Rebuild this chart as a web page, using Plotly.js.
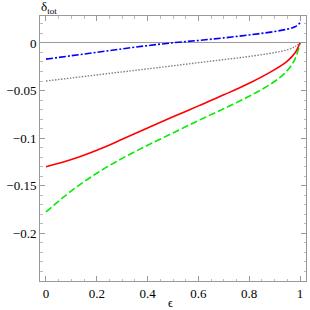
<!DOCTYPE html>
<html>
<head>
<meta charset="utf-8">
<script src="https://cdn.plot.ly/plotly-3.0.1.min.js"></script>
<style>
html,body{margin:0;padding:0;background:#fff;}
#chart{width:310px;height:310px;}
#chart text{font-family:"Liberation Serif", serif !important;}
</style>
</head>
<body>
<div id="chart"></div>
<script>
const eps = [0, 0.1, 0.2, 0.3, 0.4, 0.5, 0.6, 0.7, 0.8, 0.9, 0.95, 0.98, 1];
const blueDashDot = [-0.017, -0.0134, -0.0098, -0.0062, -0.0028, 0.0002, 0.0026, 0.0053, 0.0084, 0.012, 0.0145, 0.017, 0.021];
const grayDotted = [-0.040, -0.0368, -0.0336, -0.0304, -0.0272, -0.024, -0.0207, -0.0175, -0.0142, -0.0101, -0.0072, -0.004, 0];
const redSolid = [-0.130, -0.1225, -0.1127, -0.1012, -0.0893, -0.0776, -0.0661, -0.0545, -0.0423, -0.028, -0.019, -0.0105, 0];
const greenDashed = [-0.1775, -0.1553, -0.1368, -0.1212, -0.1075, -0.0945, -0.0815, -0.069, -0.056, -0.0405, -0.029, -0.017, 0];
const xTicks = [0, 0.2, 0.4, 0.6, 0.8, 1];
const xTickText = ["0", "0.2", "0.4", "0.6", "0.8", "1"];
const yTicks = [0, -0.05, -0.1, -0.15, -0.2];
const yTickText = ["0", "\u22120.05", "\u22120.1", "\u22120.15", "\u22120.2"];

const SERIF = "Liberation Serif";
function mkFont(sz) { return {family: SERIF, size: sz, color: '#000000'}; }

const traces = [
  {x: eps, y: greenDashed, mode: 'lines', line: {color: '#00ee00', width: 1.6, dash: '7px,3px', shape: 'spline', smoothing: 1}},
  {x: eps, y: redSolid, mode: 'lines', line: {color: '#ff0000', width: 1.6, shape: 'spline', smoothing: 1}},
  {x: eps, y: grayDotted, mode: 'lines', line: {color: '#808080', width: 1.4, dash: '1.5px,1.5px', shape: 'spline', smoothing: 1}},
  {x: eps, y: blueDashDot, mode: 'lines', line: {color: '#0000ff', width: 1.6, dash: '7px,2px,2px,2px', shape: 'spline', smoothing: 1}}
];
const layout = {
  width: 310, height: 310,
  margin: {l: 40, r: 4, t: 16, b: 29},
  paper_bgcolor: '#fff', plot_bgcolor: '#fff',
  showlegend: false,
  font: mkFont(13),
  xaxis: {
    range: [-0.0236, 1.0236], tickmode: 'array', tickvals: xTicks, ticktext: xTickText,
    ticks: 'inside', ticklen: 5, tickcolor: '#999', tickwidth: 1,
    showline: true, linecolor: '#999', linewidth: 1, mirror: 'ticks',
    showgrid: false, zeroline: false, tickfont: mkFont(13),
    minor: {dtick: 0.05, tick0: 0, ticks: 'inside', ticklen: 2.5, tickcolor: '#bbb', showgrid: false}
  },
  yaxis: {
    range: [-0.250, 0.0283], tickmode: 'array', tickvals: yTicks, ticktext: yTickText,
    ticks: 'inside', ticklen: 5, tickcolor: '#999', tickwidth: 1,
    showline: true, linecolor: '#999', linewidth: 1, mirror: 'ticks',
    showgrid: false, zeroline: true, zerolinecolor: '#999', zerolinewidth: 1,
    tickfont: mkFont(13),
    minor: {dtick: 0.01, tick0: 0, ticks: 'inside', ticklen: 2.5, tickcolor: '#bbb', showgrid: false}
  },
  annotations: [
    {xref: 'paper', yref: 'paper', x: 0, y: 1, xanchor: 'left', yanchor: 'bottom', yshift: -2, xshift: -1,
     text: '\u03b4<sub>tot</sub>', showarrow: false, font: mkFont(13)},
    {xref: 'paper', yref: 'paper', x: 0.49, y: 0, xanchor: 'center', yanchor: 'middle', yshift: -22,
     text: '\u03f5', showarrow: false, font: mkFont(12)}
  ]
};
Plotly.newPlot('chart', traces, layout, {staticPlot: true, displayModeBar: false});
</script>
</body>
</html>
